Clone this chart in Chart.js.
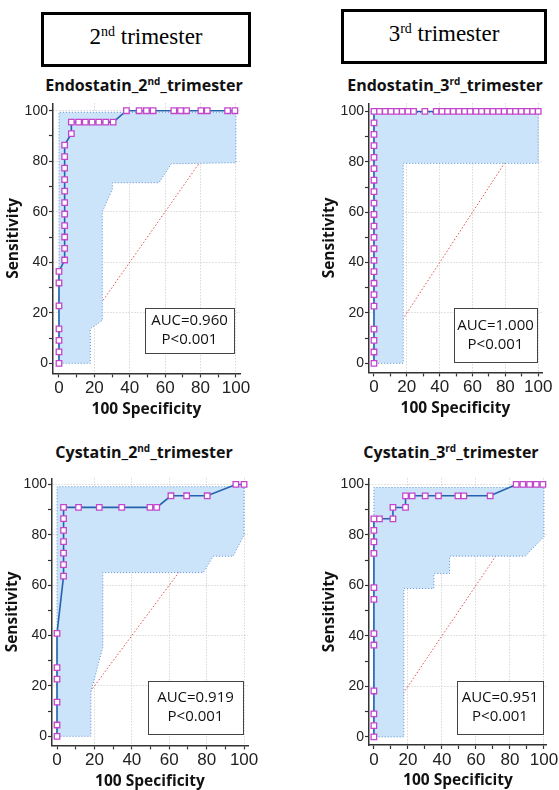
<!DOCTYPE html>
<html lang="en">
<head>
<meta charset="UTF-8">
<title>ROC curves - Endostatin and Cystatin</title>
<script src="https://cdn.jsdelivr.net/npm/chart.js@4"></script>
<style>
  body { margin: 0; width: 559px; height: 790px; position: relative; background: #fff; overflow: hidden; }
  .hdr { position: absolute; box-sizing: border-box; border: 3px solid #000; font-family: 'Liberation Serif', serif;
         font-size: 23px; text-align: center; line-height: 44px; }
  .hdr sup { font-size: 14px; line-height: 0; vertical-align: 0; position: relative; top: -8px; }
  .ttl { position: absolute; transform: translate(-50%, -50%); font-family: 'Open Sans', sans-serif; font-weight: bold;
         font-size: 16px; white-space: nowrap; color: #111; }
  .ttl sup { font-size: 10px; }
  .wrap { position: absolute; width: 280px; height: 330px; }
</style>
</head>
<body>
<div class="hdr" style="left:41px;top:12px;width:210px;height:55px"><span>2<sup>nd</sup> trimester</span></div>
<div class="hdr" style="left:341px;top:9px;width:206px;height:55px"><span>3<sup>rd</sup> trimester</span></div>
<div class="ttl" style="left:144px;top:85px">Endostatin_2<sup>nd</sup>_trimester</div>
<div class="ttl" style="left:445px;top:85px">Endostatin_3<sup>rd</sup>_trimester</div>
<div class="ttl" style="left:144px;top:452px">Cystatin_2<sup>nd</sup>_trimester</div>
<div class="ttl" style="left:451px;top:452px">Cystatin_3<sup>rd</sup>_trimester</div>
<div class="wrap" id="w0"><canvas id="c0"></canvas></div>
<div class="wrap" id="w1"><canvas id="c1"></canvas></div>
<div class="wrap" id="w2"><canvas id="c2"></canvas></div>
<div class="wrap" id="w3"><canvas id="c3"></canvas></div>
<script>
// ROC points: x = 100-Specificity, y = Sensitivity
const endo2X = [0, 0, 0, 0, 0, 0, 0, 3.2, 3.2, 3.2, 3.2, 3.2, 3.2, 3.2, 3.2, 3.2, 3.2, 3.2, 7, 7,
  11.1, 14.9, 18.7, 22.5, 26.4, 30.6, 38.1, 45.3, 49.4, 53.2, 64.9, 68.7, 72.1, 80.2, 83.8, 95.3, 99.4];
const endo2Y = [0, 4.5, 9.1, 13.6, 22.7, 31.8, 36.4, 40.9, 45.5, 50, 54.5, 59.1, 63.6, 68.2, 72.7, 77.3, 81.8, 86.4, 90.9, 95.5,
  95.5, 95.5, 95.5, 95.5, 95.5, 95.5, 100, 100, 100, 100, 100, 100, 100, 100, 100, 100, 100];

const endo3X = [0, 0, 0, 0, 0, 0, 0, 0, 0, 0, 0, 0, 0, 0, 0, 0, 0, 0, 0, 0, 0, 0,
  3.4, 6.9, 10.3, 13.8, 17.2, 20.7, 24.1, 31.0, 37.9, 41.4, 44.8, 48.3, 51.7, 55.2, 58.6, 62.1, 65.5,
  69.0, 72.4, 75.9, 79.3, 82.8, 86.2, 89.7, 93.1, 96.6, 100];
const endo3Y = [0, 4.5, 9.1, 13.6, 22.7, 27.3, 31.8, 36.4, 40.9, 45.5, 50, 54.5, 59.1, 63.6, 68.2, 72.7, 77.3, 81.8, 86.4, 90.9, 95.5, 100,
  100, 100, 100, 100, 100, 100, 100, 100, 100, 100, 100, 100, 100, 100, 100, 100, 100,
  100, 100, 100, 100, 100, 100, 100, 100, 100, 100];

const cyst2X = [0, 0, 0, 0, 0, 0, 3.5, 3.5, 3.5, 3.5, 3.5, 3.5, 3.5, 11.5, 22.6, 34.6, 49.7, 53.3, 60.9, 69.3, 80.3, 95.6, 100];
const cyst2Y = [0, 4.5, 13.6, 22.7, 27.3, 40.9, 63.6, 68.2, 72.7, 77.3, 81.8, 86.4, 90.9, 90.9, 90.9, 90.9, 90.9, 90.9, 95.5, 95.5, 95.5, 100, 100];

const cyst3X = [0, 0, 0, 0, 0, 0, 0, 0, 0, 0, 0, 0, 3.3, 11.2, 11.2, 18.6, 18.6, 22.5, 30.2, 38.0, 49.4, 52.9, 68.4, 83.7, 87.6, 91.6, 95.5, 99.4];
const cyst3Y = [0, 4.5, 9.1, 18.2, 36.4, 40.9, 54.5, 59.1, 72.7, 77.3, 81.8, 86.4, 86.4, 86.4, 90.9, 90.9, 95.5, 95.5, 95.5, 95.5, 95.5, 95.5, 95.5, 100, 100, 100, 100, 100];

// 95% confidence bands (closed outlines)
const endo2BandX = [0, 0, 100, 100, 63.5, 56.5, 30.2, 30.2, 24.5, 24.5, 17.7, 17.7, 0];
const endo2BandY = [0, 99.4, 99.4, 79.4, 79, 71.5, 71.5, 69, 60, 17, 13.7, 0, 0];
const endo3BandX = [0, 0, 100, 100, 17.8, 17.8, 0];
const endo3BandY = [0, 99.6, 99.6, 79.4, 79.4, 0, 0];
const cyst2BandX = [0, 0, 100, 100, 94.1, 83.5, 78.2, 24.5, 24.5, 18.1, 18.1, 0];
const cyst2BandY = [0, 99.1, 99.1, 80, 71.5, 71.5, 65, 65, 35.5, 17.6, 0, 0];
const cyst3BandX = [0, 0, 100, 100, 89, 44.5, 44.5, 35.3, 35.3, 17.6, 17.6, 0];
const cyst3BandY = [0, 98.8, 98.8, 79.3, 71.6, 71.6, 64.7, 64.7, 58.8, 58.8, 0, 0];

const diagX = [0, 100];
const diagY = [0, 100];

const aucValues = ['0.960', '1.000', '0.919', '0.951'];
const pValues = ['P<0.001', 'P<0.001', 'P<0.001', 'P<0.001'];
const xTitle = '100 Specificity';
const yTitle = 'Sensitivity';

const pts = (xs, ys) => xs.map((x, i) => ({ x: x, y: ys[i] }));

// layout of each panel: target plot area in page pixels, axis ranges, AUC box
const panels = [
  { roc: [endo2X, endo2Y], band: [endo2BandX, endo2BandY], area: { left: 53, right: 240, top: 103, bottom: 373 },
    x: [-3.4, 102.3], y: [-4, 102.9], box: { right: 6, bottom: 20, w: 89, h: 45 } },
  { roc: [endo3X, endo3Y], band: [endo3BandX, endo3BandY], area: { left: 369, right: 542, top: 103, bottom: 372 },
    x: [-3.05, 102.3], y: [-3.6, 103.2], box: { right: 5, bottom: 10, w: 83, h: 54 } },
  { roc: [cyst2X, cyst2Y], band: [cyst2BandX, cyst2BandY], area: { left: 52, right: 248, top: 478, bottom: 745 },
    x: [-2.7, 102.1], y: [-3.6, 102.4], box: { right: 5, bottom: 11, w: 95, h: 53 } },
  { roc: [cyst3X, cyst3Y], band: [cyst3BandX, cyst3BandY], area: { left: 369, right: 547, top: 478, bottom: 745 },
    x: [-2.9, 101.8], y: [-3.2, 102.4], box: { right: 4, bottom: 11, w: 86, h: 53 } }
];

const aucBox = {
  id: 'aucBox',
  afterDatasetsDraw(chart, args, opts) {
    const a = chart.chartArea, ctx = chart.ctx, b = opts.box;
    const x = Math.round(a.right - b.right - b.w), y = Math.round(a.bottom - b.bottom - b.h);
    ctx.save();
    ctx.fillStyle = '#fff';
    ctx.fillRect(x, y, b.w, b.h);
    ctx.strokeStyle = '#444';
    ctx.lineWidth = 1;
    ctx.strokeRect(x + 0.5, y + 0.5, b.w, b.h);
    ctx.fillStyle = '#111';
    ctx.font = '15px "Open Sans"';
    ctx.textAlign = 'center';
    ctx.textBaseline = 'middle';
    opts.lines.forEach((t, i) => ctx.fillText(t, x + b.w / 2, y + b.h / 2 + (i - 0.5) * 19));
    ctx.restore();
  }
};

function axis(range, isX) {
  return {
    type: 'linear',
    min: range[0],
    max: range[1],
    border: { display: true, color: '#333', width: 1.5, dash: [1, 2] },
    grid: {
      color: ctx => (ctx.tick && ctx.tick.value % 20 === 0 && ctx.tick.value !== 0) ? '#c4c4c4' : 'rgba(0,0,0,0)',
      lineWidth: 1,
      tickColor: '#333',
      tickWidth: 1.2,
      tickLength: 4
    },
    ticks: {
      stepSize: 10,
      includeBounds: false,
      autoSkip: false,
      maxRotation: 0,
      padding: isX ? 1 : 1,
      color: '#222',
      font: { family: "'Liberation Sans Narrow', 'Liberation Sans'", size: isX ? 17 : 14 },
      callback: v => (v % 20 === 0 ? v : '')
    },
    title: {
      display: true,
      text: isX ? xTitle : yTitle,
      color: '#111',
      font: { family: "'Open Sans'", size: 15.5, weight: 'bold' },
      padding: isX ? { top: 0, bottom: 0 } : { top: 0, bottom: 1 }
    }
  };
}

function fit(chart, wrap, t) {
  for (let k = 0; k < 2; k++) {
    const a = chart.chartArea;
    wrap.style.width = (wrap.offsetWidth + (t.right - t.left) - (a.right - a.left)) + 'px';
    wrap.style.height = (wrap.offsetHeight + (t.bottom - t.top) - (a.bottom - a.top)) + 'px';
    chart.resize();
  }
  const a = chart.chartArea;
  wrap.style.left = (t.left - a.left) + 'px';
  wrap.style.top = (t.top - a.top) + 'px';
}

panels.forEach((p, i) => {
  const chart = new Chart(document.getElementById('c' + i), {
    type: 'line',
    data: {
      datasets: [
        {
          data: pts(p.roc[0], p.roc[1]),
          borderColor: '#2462ad',
          borderWidth: 1.6,
          pointStyle: 'rect',
          pointRadius: 3.9,
          pointBorderWidth: 1.3,
          pointBorderColor: '#c445cc',
          pointBackgroundColor: '#fff',
          tension: 0,
          fill: false
        },
        {
          data: pts(p.band[0], p.band[1]),
          borderColor: '#5a8fd2',
          borderWidth: 1,
          borderDash: [1, 2],
          backgroundColor: '#cce4fa',
          pointRadius: 0,
          tension: 0,
          fill: 'shape'
        },
        {
          data: pts(diagX, diagY),
          borderColor: '#e0504a',
          borderWidth: 1,
          borderDash: [1.5, 2],
          pointRadius: 0,
          fill: false
        }
      ]
    },
    options: {
      responsive: true,
      maintainAspectRatio: false,
      animation: false,
      events: [],
      layout: { padding: { top: 4, right: 12, bottom: 2, left: 2 } },
      scales: { x: axis(p.x, true), y: axis(p.y, false) },
      plugins: {
        legend: { display: false },
        tooltip: { enabled: false },
        aucBox: { box: p.box, lines: ['AUC=' + aucValues[i], pValues[i]] }
      }
    },
    plugins: [aucBox]
  });
  fit(chart, document.getElementById('w' + i), p.area);
});
</script>
</body>
</html>
